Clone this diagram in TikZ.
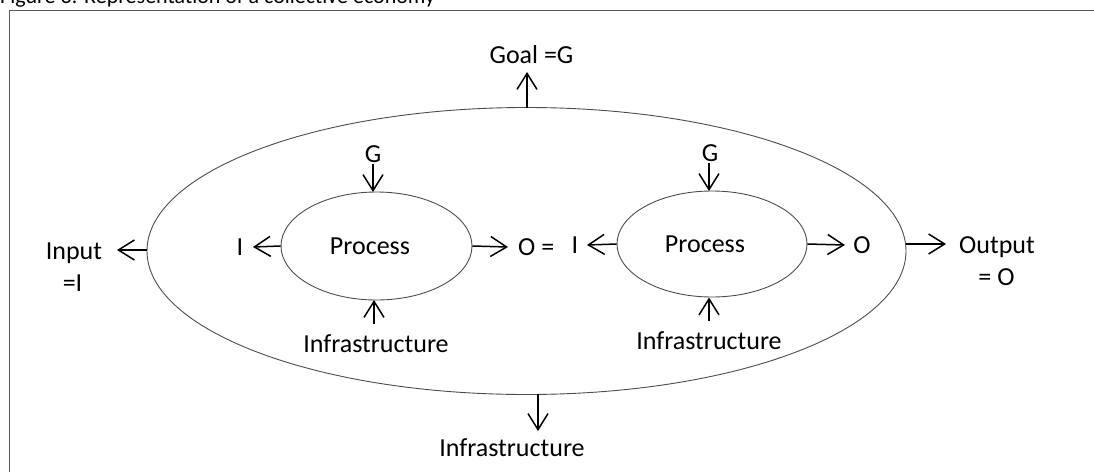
\documentclass[tikz,border=0pt]{standalone}
\usepackage{fontspec}
\setmainfont{Carlito}
\usetikzlibrary{arrows.meta,shapes.geometric}
\begin{document}
\begin{tikzpicture}[x=1pt,y=-1pt,
  lbl/.style={inner sep=0pt, anchor=base, font=\fontsize{26}{30}\selectfont},
  ring/.style={draw=black!70, line width=0.9pt, ellipse, inner sep=0pt},
  flow/.style={draw=black, line width=1.5pt,
    -{Straight Barb[length=16pt,width=20pt,line width=1.5pt]}},
  frameline/.style={draw=black!65, line width=1.4pt}]
\useasboundingbox (0,0) rectangle (1094,471);

% caption, clipped by the top of the page
\node[inner sep=0pt, anchor=base west, font=\fontsize{22}{26}\selectfont] (cap) at (0,3.5) {Figure 3: Representation of a collective economy};
% frame
\draw[frameline] (9.5,480) -- (9.5,10.5) -- (1100,10.5);

% the economy as a whole
\node[ring, minimum width=759pt, minimum height=287pt] (outer) at (526.5,251) {};
% the two processes inside it
\node[ring, minimum width=191pt, minimum height=108pt] (p1) at (376.5,246) {};
\node[ring, minimum width=190pt, minimum height=106pt] (p2) at (712,244) {};
\node[lbl] (p1t) at (370,254) {Process};
\node[lbl] (p2t) at (705,252.7) {Process};

% outer labels
\node[lbl] (goal) at (531.5,63) {Goal =G};
\node[lbl] (infb) at (512,456) {Infrastructure};
\node[lbl] (inp) at (74,259) {Input};
\node[lbl] (inpeq) at (72.5,291) {=I};
\node[lbl] (outp) at (997,253) {Output};
\node[lbl] (outpeq) at (996.5,285) {= O};

% inner labels, first process
\node[lbl] (g1) at (373,162) {G};
\node[lbl] (i1) at (240,255) {I};
\node[lbl, anchor=base west] (o1) at (518,255) {O =};
\node[lbl] (inf1) at (376,352) {Infrastructure};
% inner labels, second process
\node[lbl] (g2) at (710,161) {G};
\node[lbl] (i2) at (575,253) {I};
\node[lbl] (o2) at (862,253) {O};
\node[lbl] (inf2) at (709,349) {Infrastructure};

% arrow ends
\coordinate (goaltip) at (527,72);
\coordinate (outtop) at (527,107.5);
\coordinate (outbot) at (538,394);
\coordinate (infbtip) at (538,431);
\coordinate (outw) at (147,250);
\coordinate (inptip) at (117,250);
\coordinate (oute) at (906,244);
\coordinate (outptip) at (946,244);
\coordinate (g1tail) at (373,164);
\coordinate (g1head) at (373,192);
\coordinate (i1tip) at (253,247);
\coordinate (o1tip) at (508,247);
\coordinate (inf1tail) at (374,324);
\coordinate (inf1head) at (374,300);
\coordinate (g2tail) at (709,163);
\coordinate (g2head) at (709,191);
\coordinate (i2tip) at (587,245);
\coordinate (o2tip) at (845,245);
\coordinate (inf2tail) at (709,321);
\coordinate (inf2head) at (709,297.5);

% connectors
\draw[flow] (outtop) -- (goaltip);
\draw[flow] (outbot) -- (infbtip);
\draw[flow] (outw) -- (inptip);
\draw[flow] (oute) -- (outptip);
\draw[flow] (g1tail) -- (g1head);
\draw[flow] (p1.west) -- (i1tip);
\draw[flow] (p1.east) -- (o1tip);
\draw[flow] (inf1tail) -- (inf1head);
\draw[flow] (g2tail) -- (g2head);
\draw[flow] (p2.west) -- (i2tip);
\draw[flow] (p2.east) -- (o2tip);
\draw[flow] (inf2tail) -- (inf2head);
\end{tikzpicture}
\end{document}
